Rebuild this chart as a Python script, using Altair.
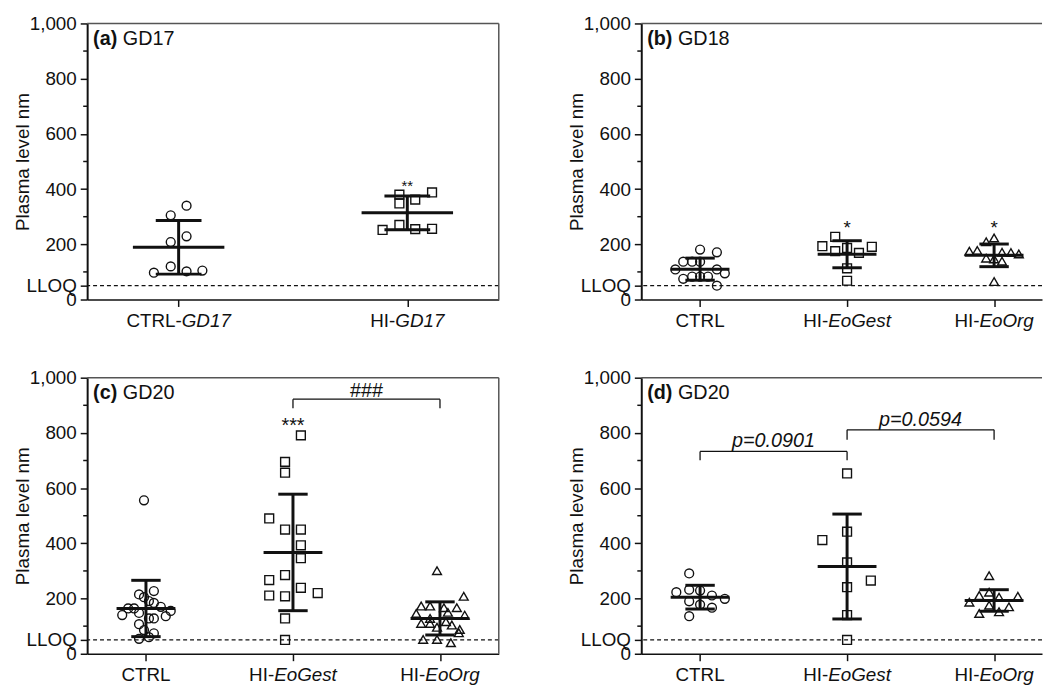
import altair as alt
import pandas as pd

FONT = "Liberation Sans"
INK = "#111111"

# ---------------- data ----------------
panel_letters = ["(a)", "(b)", "(c)", "(d)"]
panel_days = ["GD17", "GD18", "GD20", "GD20"]

# x-axis labels: plain prefix + italic suffix
a_prefix = ["CTRL-", "HI-"]
a_suffix = ["GD17", "GD17"]
bcd_prefix = ["CTRL", "HI-", "HI-"]
bcd_suffix = ["", "EoGest", "EoOrg"]

# (a) GD17
a_ctrl = [340, 305, 229, 208, 120, 97, 102, 105]
a_ctrl_jit = [8, -8, 8, -8, -8, -25, 8, 24]
a_hi = [380, 348, 362, 388, 252, 270, 255, 256]
a_hi_jit = [-8, -8, 8, 25, -25, -8, 8, 25]
a_mean = [189, 314]
a_sd = [97, 61]

# (b) GD18
b_ctrl = [181, 171, 137, 137, 137, 109, 109, 95, 83, 83, 83, 75, 50]
b_ctrl_jit = [0, 17, -17, -8, 0, -25, 17, 25, -8, 0, 8, -17, 17]
b_gest = [227, 193, 175, 187, 169, 191, 113, 68]
b_gest_jit = [-12, -25, -12, 0, 12, 25, 0, 0]
b_org = [223, 209, 175, 178, 171, 170, 165, 150, 147, 139, 65]
b_org_jit = [0, -8, -25, -17, 8, 17, 25, -8, 0, 8, 0]
b_mean = [110, 164, 160]
b_sd = [40, 49, 41]

# (c) GD20
c_ctrl = [556, 215, 227, 205, 191, 184, 164, 164, 170, 155, 140, 148, 128, 128, 136, 107, 86, 74, 54, 60]
c_ctrl_jit = [-2, -7, 8, -2, 3, 8, -18, -12, 15, 25, -24, -7, 3, 8, 20, -7, -2, 8, -7, 3]
c_gest = [791, 695, 656, 490, 450, 450, 393, 346, 285, 267, 211, 208, 239, 220, 128, 50]
c_gest_jit = [8, -8, -8, -24, -8, 8, 8, 8, -8, -24, -24, -8, 8, 25, -8, -8]
c_org = [301, 208, 173, 173, 167, 167, 146, 140, 150, 128, 116, 110, 110, 104, 96, 88, 76, 52, 52, 40]
c_org_jit = [-3, 24, -19, -10, 4, 17, -24, 25, 8, -10, 6, -19, -10, 12, -3, 20, 19, -17, -3, 11]
c_mean = [164, 367, 128]
c_sd = [102, 211, 60]

# (d) GD20
d_ctrl = [291, 223, 232, 229, 211, 199, 190, 178, 167, 136]
d_ctrl_jit = [-11, -24, -11, 0, 12, 25, -11, 0, 12, -11]
d_gest = [653, 442, 412, 331, 265, 241, 140, 50]
d_gest_jit = [0, 0, -25, 0, 24, 0, 0, 0]
d_org = [283, 223, 211, 205, 208, 187, 176, 170, 146, 152]
d_org_jit = [-5, -5, -15, 5, 24, -25, -5, 15, -15, 5]
d_mean = [205, 316, 193]
d_sd = [43, 190, 39]

# significance marks: group index, text, y (baseline, data units)
a_star_g, a_star_t, a_star_y = [1], ["**"], [394]
b_star_g, b_star_t, b_star_y = [1, 2], ["*", "*"], [236, 239]
c_star_g, c_star_t, c_star_y = [1], ["***"], [804]

# brackets: from group, to group, top level, drop level, label, label baseline
c_br_from, c_br_to, c_br_top, c_br_drop, c_br_lab, c_br_laby = [1], [2], [922], [889], ["###"], [930]
d_br_from, d_br_to, d_br_top, d_br_drop, d_br_lab, d_br_laby = [0, 1], [1, 2], [733, 811], [701, 775], ["p=0.0901", "p=0.0594"], [749, 826]

LLOQ = 50
y_major = [0, 50, 200, 400, 600, 800, 1000]
y_minor = [100, 300, 500, 700, 900]

# ---------------- styling ----------------
SHAPES = ["circle", "square", "triangle-up"]
SIZES = [80, 80, 120]
H = 279
LEFT_W = 416
RIGHT_W = 405
STEP_B = 148.57

W_REG = {'H': 722, 'I': 278, '-': 333, 'C': 722, 'T': 611, 'R': 722, 'L': 556, 'E': 667, 'o': 556,
         'G': 778, 'e': 556, 's': 500, 't': 278, 'O': 778, 'r': 333, 'g': 556, 'D': 722, ' ': 278}
W_BOLD = {'(': 333, ')': 333, 'a': 556, 'b': 611, 'c': 556, 'd': 611, ' ': 278}


def tw(s, table, size):
    return sum(table.get(ch, 556) for ch in s) * size / 1000.0


def panel(k, prefix, suffix, groups, jits, means, sds, width, xmax, stars, brackets, italic_br, right_frame):
    n = len(groups)
    step = width / (xmax + 0.4)
    xs = alt.Scale(domain=[-0.4, xmax], nice=False, zero=False)
    ys = alt.Scale(domain=[0, 1000], nice=False, zero=False)
    xax = alt.Axis(values=list(range(n)), labels=False, title=None, tickSize=7, tickWidth=1.5,
                   tickColor=INK, domainColor=INK, domainWidth=1.6, grid=False)
    yax = alt.Axis(values=y_major,
                   labelExpr="datum.value == 50 ? 'LLOQ' : format(datum.value, ',')",
                   title="Plasma level nm", tickSize=7, tickWidth=1.5, tickColor=INK,
                   domainColor=INK, domainWidth=2, grid=False, labelOverlap=False,
                   labelFontSize=19, titleFontSize=19, labelFont=FONT, titleFont=FONT,
                   titleFontWeight="normal", labelColor=INK, titleColor=INK,
                   labelPadding=4, titleX=-59, titleY=H / 2, titleAngle=270,
                   titleAlign="center", titleBaseline="alphabetic")

    def X(f):
        return alt.X(f, scale=xs, axis=xax)

    def Y(f):
        return alt.Y(f, scale=ys, axis=yax)

    rows = []
    for g, (vs, js) in enumerate(zip(groups, jits)):
        for v, j in zip(vs, js):
            rows.append({"g": g, "v": v, "j": j, "shape": SHAPES[g]})
    pts = pd.DataFrame(rows)

    points = alt.Chart(pts).transform_calculate(
        xp=f"datum.g + datum.j / {step}"
    ).mark_point(filled=False, strokeWidth=1.4, color=INK, opacity=1).encode(
        x=X("xp:Q"),
        y=Y("v:Q"),
        shape=alt.Shape("shape:N", scale=alt.Scale(domain=SHAPES, range=SHAPES), legend=None),
        size=alt.Size("shape:N", scale=alt.Scale(domain=SHAPES, range=SIZES), legend=None),
    )

    st = pd.DataFrame({"g": list(range(n)), "m": means, "s": sds})
    sb = alt.Chart(st).transform_calculate(
        lo="datum.m - datum.s", hi="datum.m + datum.s",
        ml="datum.g - 0.2", mr="datum.g + 0.2",
        cl="datum.g - 0.1", cr="datum.g + 0.1",
    )
    mean_r = sb.mark_rule(strokeWidth=3, color=INK).encode(x=X("ml:Q"), x2="mr:Q", y=Y("m:Q"))
    sd_r = sb.mark_rule(strokeWidth=3, color=INK).encode(x=X("g:Q"), y=Y("lo:Q"), y2="hi:Q")
    cap_hi = sb.mark_rule(strokeWidth=3, color=INK).encode(x=X("cl:Q"), x2="cr:Q", y=Y("hi:Q"))
    cap_lo = sb.mark_rule(strokeWidth=3, color=INK).encode(x=X("cl:Q"), x2="cr:Q", y=Y("lo:Q"))

    lloq = alt.Chart(pd.DataFrame({"v": [LLOQ]})).mark_rule(
        strokeDash=[4, 3], strokeWidth=1.3, color=INK).encode(y=Y("v:Q"))

    minor = alt.Chart(pd.DataFrame({"v": y_minor})).mark_rule(strokeWidth=1.5, color=INK).encode(
        y=Y("v:Q"), x=alt.value(0), x2=alt.value(-4))

    one = pd.DataFrame({"a": [0]})
    top = alt.Chart(one).mark_rule(color="#555555", strokeWidth=1.5).encode(
        x=alt.value(0), x2=alt.value(width), y=alt.value(0))
    layers = [points, lloq, minor, mean_r, sd_r, cap_hi, cap_lo, top]
    if right_frame:
        layers.append(alt.Chart(one).mark_rule(color="#555555", strokeWidth=1.5).encode(
            x=alt.value(width), y=alt.value(0), y2=alt.value(H)))

    # x labels (plain + italic parts)
    lab = pd.DataFrame({
        "g": list(range(n)), "pre": prefix, "suf": suffix,
        "shift": [(tw(p, W_REG, 19) - tw(s, W_REG, 19)) / 2 for p, s in zip(prefix, suffix)],
    })
    lb = alt.Chart(lab).transform_calculate(xb=f"datum.g + datum.shift / {step}")
    layers.append(lb.mark_text(align="right", baseline="alphabetic", fontSize=19, font=FONT, color=INK).encode(
        x=X("xb:Q"), y=alt.value(H + 28), text="pre:N"))
    layers.append(lb.mark_text(align="left", baseline="alphabetic", fontSize=19, font=FONT, color=INK,
                               fontStyle="italic").encode(
        x=X("xb:Q"), y=alt.value(H + 28), text="suf:N"))

    # panel title
    layers.append(alt.Chart(pd.DataFrame({"t": [panel_letters[k]]})).mark_text(
        align="left", baseline="alphabetic", fontSize=20, font=FONT, fontWeight="bold", color=INK).encode(
        x=alt.value(6), y=alt.value(21.5), text="t:N"))
    layers.append(alt.Chart(pd.DataFrame({"t": [panel_days[k]]})).mark_text(
        align="left", baseline="alphabetic", fontSize=20, font=FONT, color=INK).encode(
        x=alt.value(6 + tw(panel_letters[k] + " ", W_BOLD, 20)), y=alt.value(21.5), text="t:N"))

    if stars is not None:
        sg, stt, sy, ssize = stars
        layers.append(alt.Chart(pd.DataFrame({"g": sg, "t": stt, "y": sy})).mark_text(
            align="center", baseline="alphabetic", fontSize=ssize, font=FONT, color=INK).encode(
            x=X("g:Q"), y=Y("y:Q"), text="t:N"))

    if brackets is not None:
        bf, bt, btop, bdrop, blab, blaby = brackets
        bd = pd.DataFrame({"x1": bf, "x2": bt, "top": btop, "drop": bdrop, "lab": blab, "ly": blaby})
        bb = alt.Chart(bd).transform_calculate(xm="(datum.x1 + datum.x2) / 2")
        layers.append(bb.mark_rule(strokeWidth=1.3, color=INK).encode(
            x=X("x1:Q"), x2="x2:Q", y=Y("top:Q")))
        layers.append(bb.mark_rule(strokeWidth=1.3, color=INK).encode(
            x=X("x1:Q"), y=Y("drop:Q"), y2="top:Q"))
        layers.append(bb.mark_rule(strokeWidth=1.3, color=INK).encode(
            x=X("x2:Q"), y=Y("drop:Q"), y2="top:Q"))
        txt_kwargs = dict(align="center", baseline="alphabetic", fontSize=20, font=FONT, color=INK)
        if italic_br:
            txt_kwargs["fontStyle"] = "italic"
        layers.append(bb.mark_text(**txt_kwargs).encode(
            x=X("xm:Q"), y=Y("ly:Q"), text="lab:N"))

    return alt.layer(*layers).properties(width=width, height=H)


xmax_left3 = 2.4
xmax_right = -0.4 + RIGHT_W / STEP_B

pa = panel(0, a_prefix, a_suffix, [a_ctrl, a_hi], [a_ctrl_jit, a_hi_jit], a_mean, a_sd,
           LEFT_W, 1.4, (a_star_g, a_star_t, a_star_y, 15), None, False, True)
pb = panel(1, bcd_prefix, bcd_suffix, [b_ctrl, b_gest, b_org], [b_ctrl_jit, b_gest_jit, b_org_jit],
           b_mean, b_sd, RIGHT_W, xmax_right, (b_star_g, b_star_t, b_star_y, 19), None, False, False)
pc = panel(2, bcd_prefix, bcd_suffix, [c_ctrl, c_gest, c_org], [c_ctrl_jit, c_gest_jit, c_org_jit],
           c_mean, c_sd, LEFT_W, xmax_left3, (c_star_g, c_star_t, c_star_y, 20),
           (c_br_from, c_br_to, c_br_top, c_br_drop, c_br_lab, c_br_laby), False, True)
pd_ = panel(3, bcd_prefix, bcd_suffix, [d_ctrl, d_gest, d_org], [d_ctrl_jit, d_gest_jit, d_org_jit],
            d_mean, d_sd, RIGHT_W, xmax_right, None,
            (d_br_from, d_br_to, d_br_top, d_br_drop, d_br_lab, d_br_laby), True, False)

chart = alt.concat(pa, pb, pc, pd_, columns=2, spacing={"row": 38, "column": 69}).configure_view(
    stroke=None
).properties(
    padding={"left": 6, "top": 3, "right": 0, "bottom": 0},
    background="white",
)

chart.save("out.html", embed_options={"renderer": "svg", "actions": False})
